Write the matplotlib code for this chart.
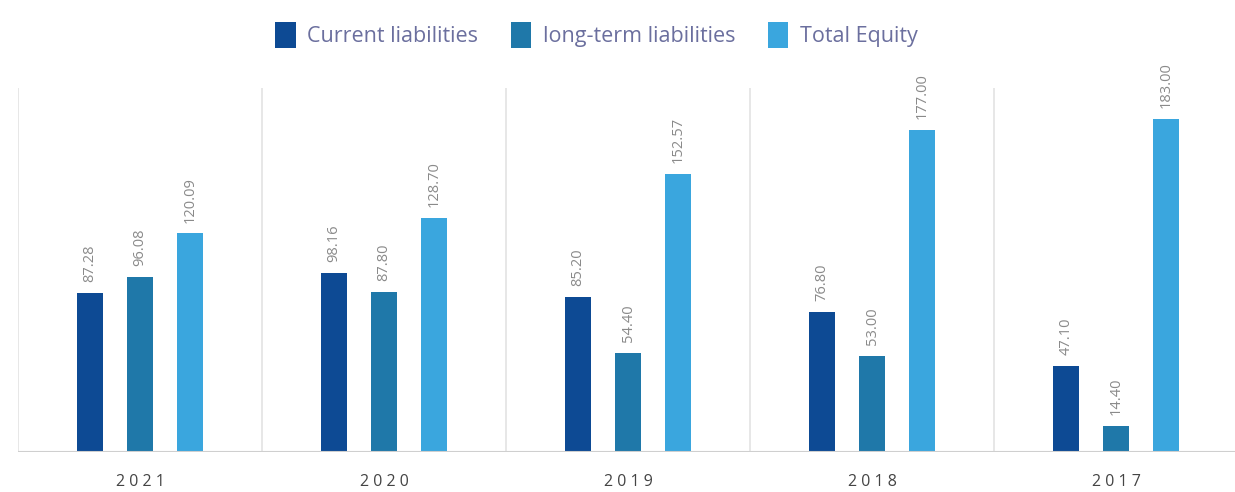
import numpy as np
import matplotlib
matplotlib.use('Agg')
import matplotlib.pyplot as plt

years = ['2021', '2020', '2019', '2018', '2017']
current_liab = [87.28, 98.16, 85.20, 76.80, 47.10]
longterm_liab = [96.08, 87.80, 54.40, 53.00, 14.40]
total_equity = [120.09, 128.70, 152.57, 177.00, 183.00]
series_names = ['Current liabilities', 'long-term liabilities', 'Total Equity']
colors = ['#0d4a94', '#1f78a9', '#3aa6de']

plt.rcParams['font.family'] = ['Open Sans', 'DejaVu Sans']

fig = plt.figure(figsize=(12.35, 4.92), dpi=100)
ax = fig.add_axes([0.0146, 0.0813, 0.9880, 0.7398])

x = np.arange(len(years))
w = 0.107
off = 0.205
for k, vals in enumerate([current_liab, longterm_liab, total_equity]):
    pos = x + (k - 1) * off
    ax.bar(pos, vals, width=w, color=colors[k], label=series_names[k], zorder=3)
    for p, v in zip(pos, vals):
        ax.text(p, v + 6, '%.2f' % v, rotation=90, ha='center', va='bottom',
                fontsize=10.5, color='#8a8a8a')

ax.set_xlim(-0.5, len(years) - 0.5)
ax.set_ylim(0, 200)
for d in np.arange(-0.5, len(years) - 0.4, 1.0):
    ax.axvline(d, color='#e3e3e3', lw=1.2, zorder=1)
ax.axhline(0, color='#cfcfcf', lw=1.5, zorder=4)

for s in ax.spines.values():
    s.set_visible(False)
ax.set_yticks([])
ax.set_xticks(x)
ax.set_xticklabels([' '.join(y) for y in years], fontsize=11.5, color='#444444')
ax.tick_params(axis='x', length=0, pad=16)

leg = fig.legend(loc='upper center', bbox_to_anchor=(0.483, 0.995), ncol=3,
                 frameon=False, fontsize=15.5, handlelength=0.95, handleheight=1.5,
                 columnspacing=1.5, handletextpad=0.55)
for t in leg.get_texts():
    t.set_color('#6b6f9e')

fig.savefig('out.png', dpi=100)
